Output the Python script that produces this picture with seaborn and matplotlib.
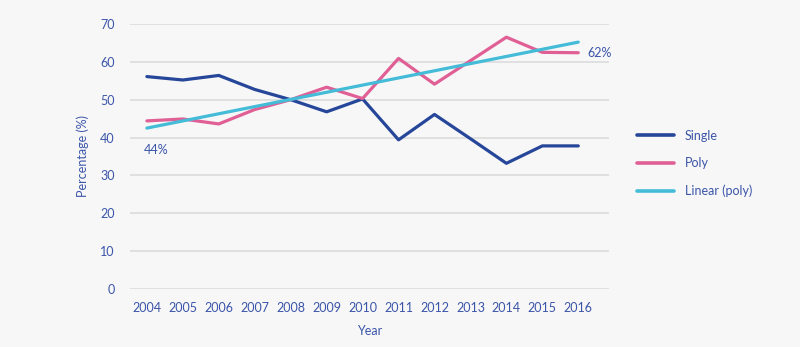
import matplotlib
matplotlib.use("Agg")
import matplotlib.pyplot as plt
import seaborn as sns
import pandas as pd

years = [2004, 2005, 2006, 2007, 2008, 2009, 2010, 2011, 2012, 2013, 2014, 2015, 2016]
single = [56.1, 55.2, 56.4, 52.7, 50.0, 46.8, 50.2, 39.4, 46.1, 39.7, 33.2, 37.8, 37.8]
poly = [44.4, 44.9, 43.6, 47.4, 50.0, 53.3, 50.3, 60.9, 54.1, 60.3, 66.5, 62.5, 62.4]
trend_years = [2004, 2016]
trend_poly = [42.5, 65.2]
y_ticks = [0, 10, 20, 30, 40, 50, 60, 70]

series_names = ["Single", "Poly", "Linear (poly)"]
colors = {"Single": "#26469a", "Poly": "#e05f95", "Linear (poly)": "#44bcd8"}
text_color = "#3b55a8"
bg = "#f7f7f8"

sns.set_theme(style="white")
plt.rcParams["font.family"] = ["Lato", "DejaVu Sans"]

df = pd.DataFrame({
    "Year": years * 2,
    "Percentage": single + poly,
    "Series": ["Single"] * len(years) + ["Poly"] * len(years),
})
trend_df = pd.DataFrame({"Year": trend_years, "Percentage": trend_poly,
                         "Series": ["Linear (poly)"] * len(trend_years)})

fig = plt.figure(figsize=(8, 3.47), dpi=100, facecolor=bg)
ax = fig.add_axes([0.1625, 0.167, 0.599, 0.764])
ax.set_facecolor(bg)

sns.lineplot(data=df, x="Year", y="Percentage", hue="Series",
             palette=colors, linewidth=2.3, ax=ax, legend=False, zorder=3)
sns.lineplot(data=trend_df, x="Year", y="Percentage", hue="Series",
             palette=colors, linewidth=2.3, ax=ax, legend=False, zorder=4)

ax.set_ylim(0, 70)
ax.set_xlim(2003.53, 2016.86)
ax.set_yticks(y_ticks)
ax.set_xticks(years)
ax.set_xticklabels([str(y) for y in years])
ax.grid(axis="y", color="#d9d9d9", linewidth=1.1, zorder=0)
ax.set_axisbelow(True)
for s in ax.spines.values():
    s.set_visible(False)
ax.tick_params(axis="both", length=0, labelsize=9, colors=text_color)
ax.tick_params(axis="y", pad=11)
ax.tick_params(axis="x", pad=9)
ax.set_xlabel("Year", fontsize=9, color=text_color, labelpad=8)
ax.set_ylabel("Percentage (%)", fontsize=9, color=text_color, labelpad=8)

ax.text(years[0] - 0.1, 36.6, f"{round(poly[0])}%", fontsize=9,
        color=text_color, ha="left", va="center")
ax.text(years[-1] + 0.25, poly[-1], f"{round(poly[-1])}%", fontsize=9,
        color=text_color, ha="left", va="center")

handles = [plt.Line2D([], [], color=colors[n], linewidth=2.6) for n in series_names]
fig.legend(handles, series_names, loc="upper left", bbox_to_anchor=(0.782, 0.659),
           frameon=False, fontsize=9, labelcolor=text_color, handlelength=3.0,
           handletextpad=0.85, labelspacing=1.25)

fig.savefig("out.png", dpi=100, facecolor=bg)
